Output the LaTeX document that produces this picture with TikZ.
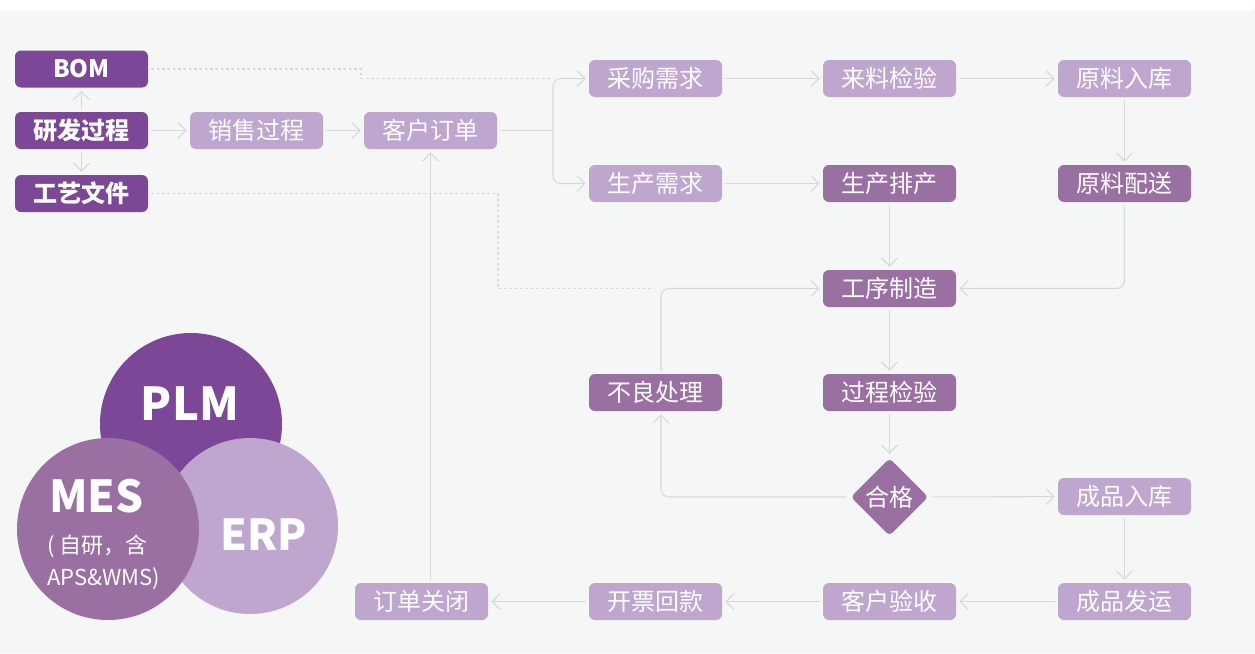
\documentclass[tikz,border=0pt]{standalone}
\usepackage{fontspec}
\setmainfont{Noto Sans CJK SC}
\usetikzlibrary{arrows.meta,shapes.geometric}

\definecolor{plmPurple}{RGB}{123,71,150}
\definecolor{mesPurple}{RGB}{154,111,161}
\definecolor{erpPurple}{RGB}{191,166,206}
\definecolor{lineGray}{RGB}{214,217,217}
\definecolor{bgGray}{RGB}{245,247,246}

\tikzset{
  box/.style={rounded corners=4.5pt, minimum width=99.75pt, minimum height=27.75pt,
    inner sep=0pt, outer sep=2.5pt, text=white, font=\fontsize{18}{18}\selectfont},
  darkbox/.style={box, fill=plmPurple, font=\bfseries\fontsize{18}{18}\selectfont},
  midbox/.style={box, fill=mesPurple},
  lightbox/.style={box, fill=erpPurple},
  flow/.style={draw=lineGray, line width=0.8pt, rounded corners=6pt,
    -{Straight Barb[length=6pt,width=12pt]}},
  plain/.style={draw=lineGray, line width=0.8pt},
  link/.style={draw=lineGray, line width=0.8pt, dash pattern=on 2pt off 2pt},
}

\begin{document}
\begin{tikzpicture}[x=0.75pt,y=0.75pt,yscale=-1,xscale=1]

\useasboundingbox (0,0) rectangle (1255,653);
%Shape: Rectangle [background]
\fill[bgGray] (0,11) -- (1249,11) arc[start angle=90, end angle=0, radius=6] -- (1255,653) -- (0,653) -- cycle;

%Shape: Circle [PLM]
\fill[plmPurple] (191,424) circle [radius=91];
%Shape: Circle [ERP]
\fill[erpPurple] (250,526) circle [radius=88];
%Shape: Circle [MES]
\fill[mesPurple] (108,529) circle [radius=91];

% Text Node
\node[anchor=base, text=white, font=\bfseries\fontsize{34}{34}\selectfont] (plm) at (190,420) {PLM};
% Text Node
\node[anchor=base west, text=white, inner sep=0pt, font=\bfseries\fontsize{33}{33}\selectfont] (mes) at (49,512) {MES};
% Text Node
\node[anchor=base west, text=white, inner sep=0pt, font=\fontsize{16.5}{16.5}\selectfont] (mesa) at (47,553) {( 自研，含};
% Text Node
\node[anchor=base west, text=white, inner sep=0pt, font=\fontsize{16.5}{16.5}\selectfont] (mesb) at (47,585) {APS\&WMS)};
% Text Node
\node[anchor=base, text=white, font=\bfseries\fontsize{32}{32}\selectfont] (erp) at (264,550) {ERP};

% Boxes
\node[darkbox] (bom) at (81.5,69) {BOM};
\node[darkbox] (yf) at (81.5,130.5) {研发过程};
\node[darkbox] (gy) at (81.5,193.5) {工艺文件};
\node[lightbox] (xs) at (256.5,130.5) {销售过程};
\node[lightbox] (kd) at (430.5,130.5) {客户订单};
\node[lightbox] (cg) at (655.5,78.5) {采购需求};
\node[lightbox] (ll) at (889.5,78.5) {来料检验};
\node[lightbox] (yr) at (1124.5,78.5) {原料入库};
\node[lightbox] (sc) at (655.5,183.5) {生产需求};
\node[midbox] (pc) at (889.5,183.5) {生产排产};
\node[midbox] (yp) at (1124.5,183.5) {原料配送};
\node[midbox] (gx) at (889.5,288.5) {工序制造};
\node[midbox] (bl) at (655.5,392.5) {不良处理};
\node[midbox] (jy) at (889.5,392.5) {过程检验};
\node[diamond, fill=mesPurple, rounded corners=3pt, minimum width=60pt, minimum height=60pt,
  inner sep=0pt, outer sep=2.5pt, text=white, font=\fontsize{18}{18}\selectfont] (hg) at (889.5,497) {合格};
\node[lightbox] (cr) at (1124.5,496.5) {成品入库};
\node[lightbox] (cf) at (1124.5,601.5) {成品发运};
\node[lightbox] (ky) at (889.5,601.5) {客户验收};
\node[lightbox] (kp) at (655.5,601.5) {开票回款};
\node[lightbox] (dg) at (421.5,601.5) {订单关闭};

\coordinate (split) at (553,130.5);
\coordinate (loopx) at (661,0);

% Connectors
\draw[flow] (yf) -- (bom);
\draw[flow] (yf) -- (gy);
\draw[flow] (yf) -- (xs);
\draw[flow] (xs) -- (kd);
\draw[plain] (kd.east) -- (split);
\draw[flow] (split) |- (cg);
\draw[flow] (split) |- (sc);
\draw[flow] (cg) -- (ll);
\draw[flow] (ll) -- (yr);
\draw[flow] (yr) -- (yp);
\draw[flow] (sc) -- (pc);
\draw[flow] (pc) -- (gx);
\draw[flow] (yp) |- (gx);
\draw[flow] (gx) -- (jy);
\draw[flow] (jy) -- (hg);
\draw[flow] (hg) -- (cr);
\draw[flow] (hg) -| (bl.south -| loopx);
\draw[flow] (bl.north -| loopx) |- (gx);
\draw[flow] (cr) -- (cf);
\draw[flow] (cf) -- (ky);
\draw[flow] (ky) -- (kp);
\draw[flow] (kp) -- (dg);
\draw[flow] (dg.north -| kd) -- (kd);

% Dotted links
\draw[link] (bom.east) -| (361,78.5) -- (split |- cg);
\draw[link] (gy.east) -| (498,288.5) -- (655,288.5);

\end{tikzpicture}
\end{document}
